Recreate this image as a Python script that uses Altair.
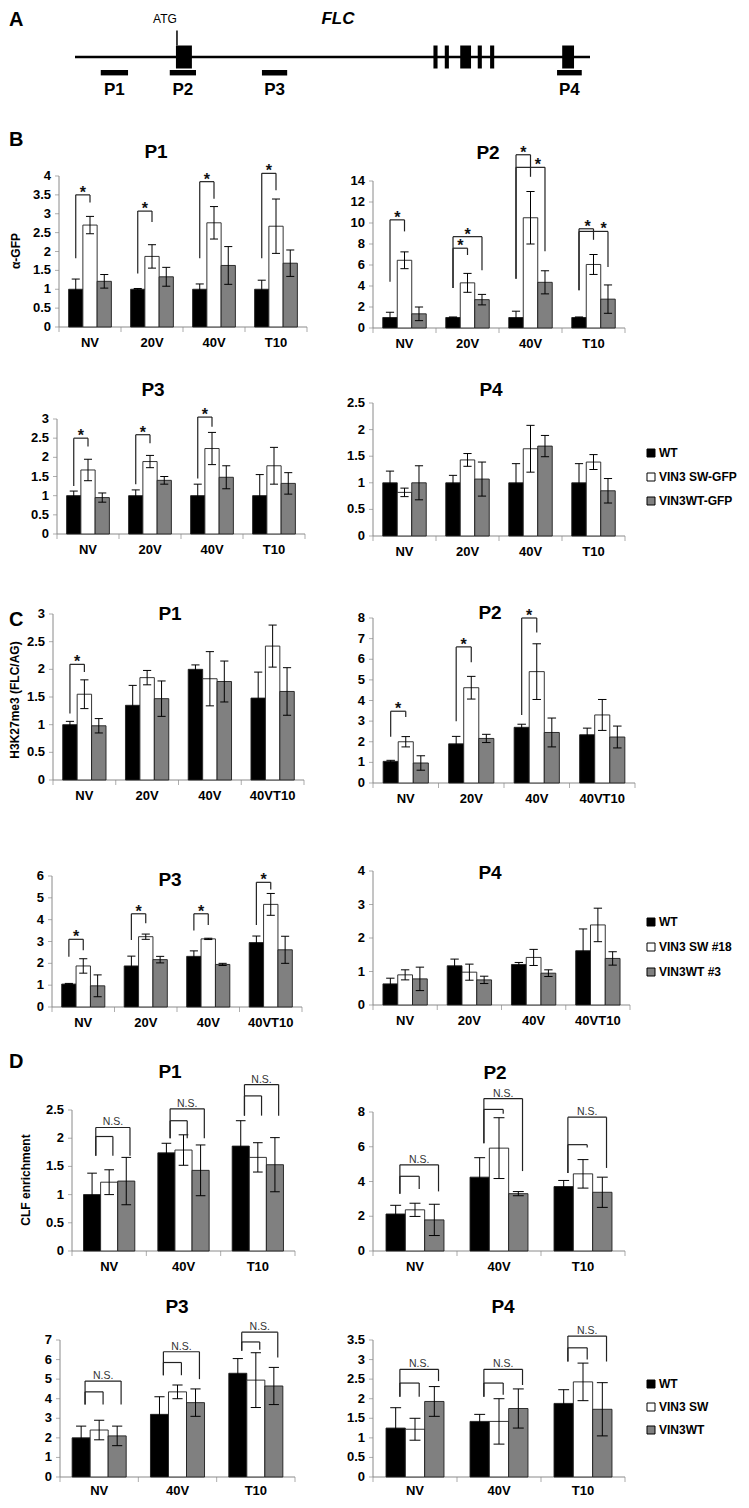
import altair as alt
import pandas as pd

W, H, M = 733, 1492, 8          # chart size and page margin
FONT = "Liberation Sans"
AX = "#8a8a8a"
BW = 0.23                       # bar width as a fraction of a category band
CAP = 0.065                     # half width of error-bar caps
FILLS = ["#000000", "#ffffff", "#808080"]

# ---------------- Panel A: FLC gene model (positions in % of the drawn locus) ----------------
GENE_SPAN = [0, 100]
EXON_START = [19.6, 69.6, 71.8, 74.8, 78.2, 80.6, 94.6]
EXON_END = [22.7, 70.4, 72.6, 76.9, 79.0, 81.4, 96.9]
ATG_POS = 19.8
PROBE_NAMES = ["P1", "P2", "P3", "P4"]
PROBE_START = [5.0, 18.4, 36.3, 93.6]
PROBE_END = [10.3, 23.5, 41.2, 98.4]

# ---------------- Panel B: alpha-GFP ChIP ----------------
B_CATS = ["NV", "20V", "40V", "T10"]
B_SERIES = ["WT", "VIN3 SW-GFP", "VIN3WT-GFP"]
B1_WT = [1.0, 1.0, 1.0, 1.0]
B1_WT_ERR = [0.27, 0.02, 0.14, 0.24]
B1_SW = [2.70, 1.87, 2.76, 2.67]
B1_SW_ERR = [0.23, 0.31, 0.43, 0.72]
B1_GR = [1.21, 1.33, 1.63, 1.69]
B1_GR_ERR = [0.18, 0.25, 0.50, 0.35]
B1_BRACKETS = [(0, 0, 1, 3.50, 1.82, 3.30, 0.5, "*"), (1, 0, 1, 3.07, 1.42, 2.78, 0.5, "*"),
               (2, 0, 1, 3.85, 1.82, 3.40, 0.5, "*"), (3, 0, 1, 4.07, 1.82, 3.62, 0.5, "*")]

B2_WT = [1.0, 1.0, 1.0, 1.0]
B2_WT_ERR = [0.5, 0.05, 0.6, 0.05]
B2_SW = [6.45, 4.3, 10.5, 6.05]
B2_SW_ERR = [0.8, 0.9, 2.5, 0.95]
B2_GR = [1.35, 2.7, 4.35, 2.75]
B2_GR_ERR = [0.65, 0.5, 1.1, 1.35]
B2_BRACKETS = [(0, 0, 1, 10.3, 4.4, 9.2, 0.5, "*"),
               (1, 0, 1, 7.6, 3.8, 6.95, 0.5, "*"), (1, 0, 2, 8.7, 3.8, 5.5, 1.0, "*"),
               (2, 0, 1, 16.5, 4.7, 14.4, 0.5, "*"), (2, 0, 2, 15.3, 4.7, 7.3, 1.5, "*"),
               (3, 0, 1, 9.45, 3.6, 8.4, 0.6, "*"), (3, 0, 2, 9.2, 3.6, 5.8, 1.7, "*")]

B3_WT = [1.0, 1.0, 1.0, 1.0]
B3_WT_ERR = [0.12, 0.15, 0.3, 0.55]
B3_SW = [1.67, 1.89, 2.23, 1.78]
B3_SW_ERR = [0.28, 0.16, 0.42, 0.48]
B3_GR = [0.95, 1.4, 1.48, 1.32]
B3_GR_ERR = [0.12, 0.1, 0.3, 0.28]
B3_BRACKETS = [(0, 0, 1, 2.50, 1.25, 2.28, 0.5, "*"), (1, 0, 1, 2.59, 1.30, 2.37, 0.5, "*"),
               (2, 0, 1, 3.05, 1.45, 2.80, 0.5, "*")]

B4_WT = [1.0, 1.0, 1.0, 1.0]
B4_WT_ERR = [0.22, 0.14, 0.36, 0.36]
B4_SW = [0.82, 1.43, 1.64, 1.39]
B4_SW_ERR = [0.08, 0.12, 0.44, 0.14]
B4_GR = [1.0, 1.07, 1.69, 0.85]
B4_GR_ERR = [0.32, 0.32, 0.2, 0.23]
B4_BRACKETS = []

# ---------------- Panel C: H3K27me3 ----------------
C_CATS = ["NV", "20V", "40V", "40VT10"]
C_SERIES = ["WT", "VIN3 SW #18", "VIN3WT #3"]
C1_WT = [1.0, 1.35, 2.0, 1.48]
C1_WT_ERR = [0.06, 0.36, 0.08, 0.47]
C1_SW = [1.55, 1.85, 1.83, 2.42]
C1_SW_ERR = [0.26, 0.13, 0.49, 0.38]
C1_GR = [0.98, 1.47, 1.78, 1.6]
C1_GR_ERR = [0.13, 0.32, 0.37, 0.43]
C1_BRACKETS = [(0, 0, 1, 2.09, 1.2, 1.95, 0.5, "*")]

C2_WT = [1.05, 1.9, 2.7, 2.34]
C2_WT_ERR = [0.05, 0.36, 0.15, 0.32]
C2_SW = [2.0, 4.62, 5.4, 3.3]
C2_SW_ERR = [0.25, 0.55, 1.35, 0.75]
C2_GR = [0.97, 2.16, 2.45, 2.23]
C2_GR_ERR = [0.35, 0.2, 0.7, 0.53]
C2_BRACKETS = [(0, 0, 1, 3.48, 2.24, 3.2, 0.5, "*"), (1, 0, 1, 6.6, 3.0, 5.86, 0.5, "*"),
               (2, 0, 1, 8.0, 3.3, 7.3, 0.5, "*")]

C3_WT = [1.05, 1.88, 2.32, 2.95]
C3_WT_ERR = [0.03, 0.45, 0.25, 0.3]
C3_SW = [1.88, 3.22, 3.12, 4.7]
C3_SW_ERR = [0.33, 0.12, 0.03, 0.5]
C3_GR = [0.97, 2.17, 1.95, 2.62]
C3_GR_ERR = [0.5, 0.15, 0.05, 0.62]
C3_BRACKETS = [(0, 0, 1, 3.1, 2.3, 2.6, 0.5, "*"), (1, 0, 1, 4.27, 3.07, 3.84, 0.5, "*"),
               (2, 0, 1, 4.27, 3.5, 3.76, 0.5, "*"), (3, 0, 1, 5.71, 3.76, 5.38, 0.5, "*")]

C4_WT = [0.63, 1.17, 1.21, 1.62]
C4_WT_ERR = [0.17, 0.2, 0.06, 0.65]
C4_SW = [0.9, 0.98, 1.42, 2.39]
C4_SW_ERR = [0.15, 0.24, 0.24, 0.5]
C4_GR = [0.78, 0.75, 0.95, 1.39]
C4_GR_ERR = [0.35, 0.11, 0.1, 0.2]
C4_BRACKETS = []

# ---------------- Panel D: CLF enrichment ----------------
D_CATS = ["NV", "40V", "T10"]
D_SERIES = ["WT", "VIN3 SW", "VIN3WT"]
D1_WT = [1.0, 1.74, 1.86]
D1_WT_ERR = [0.38, 0.17, 0.45]
D1_SW = [1.22, 1.79, 1.66]
D1_SW_ERR = [0.22, 0.27, 0.26]
D1_GR = [1.24, 1.43, 1.53]
D1_GR_ERR = [0.42, 0.45, 0.48]
D1_BRACKETS = [(0, 0, 2, 2.19, 1.69, 1.69, 1.0, "N.S."), (0, 0, 1, 2.03, 1.69, 1.69, 0, ""),
               (1, 0, 2, 2.52, 2.0, 2.0, 1.0, "N.S."), (1, 0, 1, 2.31, 2.0, 2.0, 0, ""),
               (2, 0, 2, 2.95, 2.4, 2.4, 1.0, "N.S."), (2, 0, 1, 2.75, 2.4, 2.4, 0, "")]

D2_WT = [2.13, 4.25, 3.71]
D2_WT_ERR = [0.5, 1.12, 0.35]
D2_SW = [2.37, 5.92, 4.44]
D2_SW_ERR = [0.38, 1.75, 0.82]
D2_GR = [1.79, 3.3, 3.38]
D2_GR_ERR = [0.9, 0.12, 0.87]
D2_BRACKETS = [(0, 0, 2, 4.96, 3.29, 3.43, 1.0, "N.S."), (0, 0, 1, 4.3, 3.29, 3.57, 0, ""),
               (1, 0, 2, 8.77, 6.2, 4.6, 1.0, "N.S."), (1, 0, 1, 8.15, 6.2, 7.9, 0, ""),
               (2, 0, 2, 7.7, 4.49, 4.78, 1.0, "N.S."), (2, 0, 1, 6.12, 4.49, 5.95, 0, "")]

D3_WT = [2.0, 3.2, 5.3]
D3_WT_ERR = [0.6, 0.9, 0.75]
D3_SW = [2.4, 4.35, 4.95]
D3_SW_ERR = [0.5, 0.35, 1.4]
D3_GR = [2.1, 3.8, 4.65]
D3_GR_ERR = [0.5, 0.7, 0.95]
D3_BRACKETS = [(0, 0, 2, 4.9, 3.7, 3.7, 1.0, "N.S."), (0, 0, 1, 4.35, 3.7, 3.7, 0, ""),
               (1, 0, 2, 6.4, 5.2, 5.0, 1.0, "N.S."), (1, 0, 1, 5.85, 5.2, 5.2, 0, ""),
               (2, 0, 2, 7.4, 6.45, 6.1, 1.0, "N.S."), (2, 0, 1, 6.9, 6.45, 6.5, 0, "")]

D4_WT = [1.25, 1.42, 1.88]
D4_WT_ERR = [0.52, 0.18, 0.35]
D4_SW = [1.22, 1.42, 2.43]
D4_SW_ERR = [0.28, 0.58, 0.48]
D4_GR = [1.93, 1.75, 1.73]
D4_GR_ERR = [0.38, 0.5, 0.68]
D4_BRACKETS = [(0, 0, 2, 2.75, 2.05, 2.45, 1.0, "N.S."), (0, 0, 1, 2.4, 2.05, 2.05, 0, ""),
               (1, 0, 2, 2.75, 2.05, 2.35, 1.0, "N.S."), (1, 0, 1, 2.4, 2.05, 2.1, 0, ""),
               (2, 0, 2, 3.6, 2.95, 2.95, 1.0, "N.S."), (2, 0, 1, 3.3, 2.95, 3.0, 0, "")]


def text_at(txt, x, y, size, weight="bold", style="normal", align="center",
            baseline="middle", angle=None, color="black"):
    kw = dict(font=FONT, fontSize=size, fontWeight=weight, fontStyle=style,
              align=align, baseline=baseline, color=color)
    if angle is not None:
        kw["angle"] = angle
    return alt.Chart(pd.DataFrame({"t": [txt]})).mark_text(**kw).encode(
        text="t:N", x=alt.value(x - M), y=alt.value(y - M))


def seg_layer(rows, xs, ys, color, width):
    return alt.Chart(pd.DataFrame(rows)).mark_rule(color=color, strokeWidth=width).encode(
        x=alt.X("xa:Q", scale=xs, axis=None), x2="xb:Q",
        y=alt.Y("ya:Q", scale=ys, axis=None), y2="yb:Q")


def panel(cats, series, vals, errs, brackets, ymax, ystep, box, title, title_at,
          ytitle=None, ytitle_at=None, legend_at=None, legend_gap=11, shift=0.0, xlab_dy=16):
    L, R, T, B = [v - M for v in box]
    n = len(cats)
    xs = alt.Scale(domain=[0, n], range=[L, R], nice=False, zero=False, padding=0)
    ys = alt.Scale(domain=[0, ymax], range=[B, T], nice=False, zero=False, padding=0)

    bar_rows, seg_rows = [], []
    for i in range(n):
        for s in range(3):
            xc = i + 0.5 + (s - 1) * BW
            v, e = vals[s][i], errs[s][i]
            bar_rows.append({"series": series[s], "x1": xc - BW / 2, "x2": xc + BW / 2,
                             "v": v, "base": 0.0})
            seg_rows += [{"xa": xc, "xb": xc, "ya": v - e, "yb": v + e},
                         {"xa": xc - CAP, "xb": xc + CAP, "ya": v + e, "yb": v + e},
                         {"xa": xc - CAP, "xb": xc + CAP, "ya": v - e, "yb": v - e}]
    br_rows, star_rows, ns_rows = [], [], []
    for (i, a, b, top, lb, rb, lp, txt) in brackets:
        xl = i + 0.5 + (a - 1) * BW + shift
        xr = i + 0.5 + (b - 1) * BW + shift
        br_rows += [{"xa": xl, "xb": xl, "ya": lb, "yb": top},
                    {"xa": xl, "xb": xr, "ya": top, "yb": top},
                    {"xa": xr, "xb": xr, "ya": rb, "yb": top}]
        if txt:
            row = {"x": i + 0.5 + (lp - 1) * BW + shift, "y": top, "t": txt}
            (star_rows if txt == "*" else ns_rows).append(row)

    # ---- axes drawn as marks through the panel scales ----
    yticks = [round(k * ystep, 3) for k in range(int(round(ymax / ystep)) + 1)]
    ytick_df = pd.DataFrame({"x0": 0.0, "v": yticks, "lab": [f"{t:g}" for t in yticks]})
    xtick_df = pd.DataFrame({"k": [float(k) for k in range(n + 1)], "y0": 0.0})
    xlab_df = pd.DataFrame({"x": [i + 0.5 for i in range(n)], "y0": 0.0, "lab": cats})
    lab_style = dict(font=FONT, fontSize=13, fontWeight="bold", color="black")
    layers = [
        seg_layer([{"xa": 0.0, "xb": 0.0, "ya": 0.0, "yb": ymax},
                   {"xa": 0.0, "xb": float(n), "ya": 0.0, "yb": 0.0}], xs, ys, AX, 1),
        alt.Chart(ytick_df).mark_tick(orient="horizontal", size=4, thickness=1, xOffset=-2, color=AX).encode(
            x=alt.X("x0:Q", scale=xs, axis=None), y=alt.Y("v:Q", scale=ys, axis=None)),
        alt.Chart(ytick_df).mark_text(align="right", baseline="middle", dx=-8, **lab_style).encode(
            x=alt.X("x0:Q", scale=xs, axis=None), y=alt.Y("v:Q", scale=ys, axis=None), text="lab:N"),
        alt.Chart(xtick_df).mark_tick(orient="vertical", size=5, thickness=1, yOffset=2.5, color=AX).encode(
            x=alt.X("k:Q", scale=xs, axis=None), y=alt.Y("y0:Q", scale=ys, axis=None)),
        alt.Chart(xlab_df).mark_text(align="center", baseline="middle", dy=xlab_dy, **lab_style).encode(
            x=alt.X("x:Q", scale=xs, axis=None), y=alt.Y("y0:Q", scale=ys, axis=None), text="lab:N"),
    ]

    if legend_at:
        leg = alt.Legend(orient="none", legendX=legend_at[0] - M, legendY=legend_at[1] - M,
                         title=None, symbolType="square", symbolSize=64,
                         symbolStrokeColor="black", symbolStrokeWidth=1,
                         labelFont=FONT, labelFontSize=12, labelFontWeight="bold",
                         labelColor="black", labelLimit=300, rowPadding=legend_gap,
                         padding=0, labelOffset=2)
    else:
        leg = None

    layers.append(
        alt.Chart(pd.DataFrame(bar_rows)).mark_bar(stroke="#1e1e1e", strokeWidth=0.9).encode(
            x=alt.X("x1:Q", scale=xs, axis=None), x2="x2:Q",
            y=alt.Y("v:Q", scale=ys, axis=None), y2="base:Q",
            fill=alt.Fill("series:N", scale=alt.Scale(domain=series, range=FILLS), legend=leg)))
    layers.append(seg_layer(seg_rows, xs, ys, "black", 1))
    if br_rows:
        layers.append(seg_layer(br_rows, xs, ys, "#222222", 1.2))
    if star_rows:
        layers.append(alt.Chart(pd.DataFrame(star_rows)).mark_text(
            font=FONT, fontSize=16, fontWeight="bold", baseline="alphabetic", dy=3, color="#111111").encode(
            x=alt.X("x:Q", scale=xs, axis=None), y=alt.Y("y:Q", scale=ys, axis=None), text="t:N"))
    if ns_rows:
        layers.append(alt.Chart(pd.DataFrame(ns_rows)).mark_text(
            font=FONT, fontSize=10.5, baseline="alphabetic", dy=-2, color="#333333").encode(
            x=alt.X("x:Q", scale=xs, axis=None), y=alt.Y("y:Q", scale=ys, axis=None), text="t:N"))
    layers.append(text_at(title, title_at[0], title_at[1], 19))
    if ytitle:
        layers.append(text_at(ytitle, ytitle_at[0], ytitle_at[1], 12, angle=270))
    return alt.layer(*layers)


# ---------------- gene model layer ----------------
gx = alt.Scale(domain=GENE_SPAN, range=[75 - M, 590 - M], nice=False, zero=False, padding=0)
gy = alt.Scale(domain=[-1, 1], range=[68.5 - M, 45.5 - M], nice=False, zero=False, padding=0)
gene_line = alt.Chart(pd.DataFrame({"xa": [GENE_SPAN[0]], "xb": [GENE_SPAN[1]], "ya": [0], "yb": [0]})).mark_rule(
    color="black", strokeWidth=2.5).encode(
    x=alt.X("xa:Q", scale=gx, axis=None), x2="xb:Q", y=alt.Y("ya:Q", scale=gy, axis=None), y2="yb:Q")
atg_tick = alt.Chart(pd.DataFrame({"xa": [ATG_POS], "xb": [ATG_POS], "ya": [1.0], "yb": [2.3]})).mark_rule(
    color="black", strokeWidth=1.5).encode(
    x=alt.X("xa:Q", scale=gx, axis=None), x2="xb:Q", y=alt.Y("ya:Q", scale=gy, axis=None), y2="yb:Q")
exons = alt.Chart(pd.DataFrame({"x": EXON_START, "x2": EXON_END, "y": -1.0, "y2": 1.0})).mark_rect(
    color="black").encode(
    x=alt.X("x:Q", scale=gx, axis=None), x2="x2:Q", y=alt.Y("y:Q", scale=gy, axis=None), y2="y2:Q")
probes = alt.Chart(pd.DataFrame({"x": PROBE_START, "x2": PROBE_END, "y": -1.13, "y2": -1.6})).mark_rect(
    color="black").encode(
    x=alt.X("x:Q", scale=gx, axis=None), x2="x2:Q", y=alt.Y("y:Q", scale=gy, axis=None), y2="y2:Q")
probe_lab = alt.Chart(pd.DataFrame({"x": [(a + b) / 2 for a, b in zip(PROBE_START, PROBE_END)],
                                    "y": -2.85, "t": PROBE_NAMES})).mark_text(
    font=FONT, fontSize=17, fontWeight="bold", baseline="middle").encode(
    x=alt.X("x:Q", scale=gx, axis=None), y=alt.Y("y:Q", scale=gy, axis=None), text="t:N")
gene = alt.layer(gene_line, atg_tick, exons, probes, probe_lab,
                 text_at("ATG", 165, 19, 12, weight="normal"),
                 text_at("FLC", 338, 19, 17, style="italic"))

panels = [
    panel(B_CATS, B_SERIES, [B1_WT, B1_SW, B1_GR], [B1_WT_ERR, B1_SW_ERR, B1_GR_ERR], B1_BRACKETS,
          4, 0.5, (59, 307, 176, 327), "P1", (156, 152), ytitle="α-GFP", ytitle_at=(16, 251)),
    panel(B_CATS, B_SERIES, [B2_WT, B2_SW, B2_GR], [B2_WT_ERR, B2_SW_ERR, B2_GR_ERR], B2_BRACKETS,
          14, 2, (373, 625, 181, 328), "P2", (488, 153)),
    panel(B_CATS, B_SERIES, [B3_WT, B3_SW, B3_GR], [B3_WT_ERR, B3_SW_ERR, B3_GR_ERR], B3_BRACKETS,
          3, 0.5, (57, 305, 419, 534), "P3", (153, 390)),
    panel(B_CATS, B_SERIES, [B4_WT, B4_SW, B4_GR], [B4_WT_ERR, B4_SW_ERR, B4_GR_ERR], B4_BRACKETS,
          2.5, 0.5, (373, 625, 403, 536), "P4", (491, 390), legend_at=(645, 447), legend_gap=12),
    panel(C_CATS, C_SERIES, [C1_WT, C1_SW, C1_GR], [C1_WT_ERR, C1_SW_ERR, C1_GR_ERR], C1_BRACKETS,
          3, 0.5, (53, 304, 614, 780), "P1", (170, 614), ytitle="H3K27me3 (FLC/AG)", ytitle_at=(15, 700)),
    panel(C_CATS, C_SERIES, [C2_WT, C2_SW, C2_GR], [C2_WT_ERR, C2_SW_ERR, C2_GR_ERR], C2_BRACKETS,
          8, 1, (373, 635, 618, 783), "P2", (490, 613)),
    panel(C_CATS, C_SERIES, [C3_WT, C3_SW, C3_GR], [C3_WT_ERR, C3_SW_ERR, C3_GR_ERR], C3_BRACKETS,
          6, 1, (52, 302, 876, 1007), "P3", (170, 880)),
    panel(C_CATS, C_SERIES, [C4_WT, C4_SW, C4_GR], [C4_WT_ERR, C4_SW_ERR, C4_GR_ERR], C4_BRACKETS,
          4, 1, (373, 630, 871, 1005), "P4", (490, 873), legend_at=(645, 916), legend_gap=13),
    panel(D_CATS, D_SERIES, [D1_WT, D1_SW, D1_GR], [D1_WT_ERR, D1_SW_ERR, D1_GR_ERR], D1_BRACKETS,
          2.5, 0.5, (72, 295, 1110, 1251), "P1", (170, 1072), ytitle="CLF enrichment",
          ytitle_at=(26, 1180), shift=0.05),
    panel(D_CATS, D_SERIES, [D2_WT, D2_SW, D2_GR], [D2_WT_ERR, D2_SW_ERR, D2_GR_ERR], D2_BRACKETS,
          8, 2, (373, 625, 1112, 1251), "P2", (495, 1073), shift=0.05),
    panel(D_CATS, D_SERIES, [D3_WT, D3_SW, D3_GR], [D3_WT_ERR, D3_SW_ERR, D3_GR_ERR], D3_BRACKETS,
          7, 1, (60, 295, 1340, 1477), "P3", (177, 1307), shift=0.05, xlab_dy=14),
    panel(D_CATS, D_SERIES, [D4_WT, D4_SW, D4_GR], [D4_WT_ERR, D4_SW_ERR, D4_GR_ERR], D4_BRACKETS,
          3.5, 0.5, (373, 625, 1340, 1477), "P4", (503, 1307), legend_at=(645, 1378), legend_gap=11,
          shift=0.05, xlab_dy=14),
]

letters = [text_at("A", 9, 20, 20, align="left"), text_at("B", 9, 140, 20, align="left"),
           text_at("C", 9, 620, 20, align="left"), text_at("D", 9, 1062, 20, align="left")]

chart = alt.layer(gene, *panels, *letters).resolve_scale(
    x="independent", y="independent", fill="independent"
).properties(
    width=W, height=H, padding=0, autosize=alt.AutoSizeParams(type="none")
).configure_view(stroke=None)

chart.save("out.html", embed_options={"renderer": "svg", "actions": False})
